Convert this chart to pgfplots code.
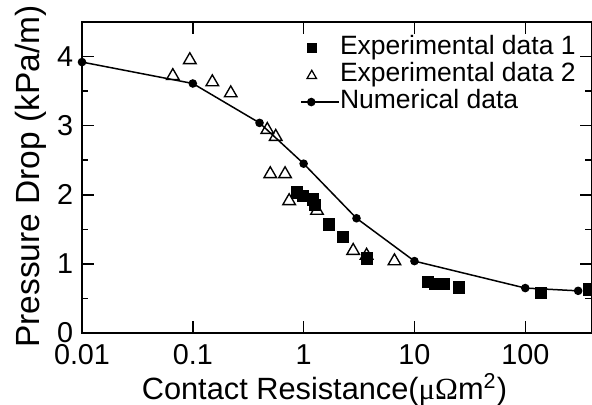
\documentclass[border=0pt]{standalone}
\usepackage{fontspec}
\setmainfont{Liberation Sans}
\newfontfamily\symfont{Liberation Serif}
\usepackage{pgfplots}
\pgfplotsset{compat=1.18}

% 1 px of the reference = 0.4pt
\begin{document}
\begin{tikzpicture}
\begin{axis}[
  scale only axis,
  width=204pt, height=124.4pt,
  xmode=log,
  xmin=0.01, xmax=400,
  ymin=0, ymax=4.5,
  xtick={0.01,0.1,1,10,100},
  xticklabels={0.01,0.1,1,10,100},
  xminorticks=false,
  ytick={0,1,2,3,4},
  minor y tick num=1,
  tick align=inside,
  major tick length=4.8pt,
  minor tick length=2.6pt,
  every tick/.style={black, line width=0.6pt},
  axis line style={line width=0.8pt},
  /pgf/number format/assume math mode=true,
  ticklabel style={font=\fontsize{11.5}{12}\selectfont},
  xticklabel style={yshift=-1pt},
  xlabel={Contact Resistance({\symfont μΩ}m\textsuperscript{2})},
  ylabel={Pressure Drop (kPa/m)},
  every axis x label/.style={at={([xshift=-5pt,yshift=-26.6pt]axis description cs:0.5,0)},
    anchor=base, font=\fontsize{12.3}{13}\selectfont},
  every axis y label/.style={at={([xshift=-16.8pt,yshift=0.4pt]axis description cs:0,0.5)},
    anchor=base, rotate=90, font=\fontsize{13.4}{14}\selectfont},
  legend style={at={(rel axis cs:0.4275,0.958)}, anchor=north west, draw=none, fill=none,
    inner sep=0pt, row sep=0.8pt,
    font=\fontsize{10.6}{11}\selectfont,
    nodes={inner sep=0pt, text height=0.75em, text depth=0.25em}},
  legend cell align=left,
]
\addplot[only marks, mark=square*, mark size=2.3pt, black,
  legend image code/.code={\path (0pt,0pt) (15.2pt,0pt); \fill[black] (2.3pt,-1.9pt) rectangle (6.1pt,1.9pt);}]
  coordinates {
  (0.87,2.03) (0.99,1.98) (1.22,1.93) (1.26,1.85) (1.69,1.57) (2.27,1.39)
  (3.73,1.08) (13.3,0.74) (15.3,0.71) (18.5,0.71) (25.3,0.66) (139,0.58) (377,0.63)
  };
\addlegendentry{Experimental data 1}
\addplot[only marks, mark=triangle, mark size=2.9pt, black, mark options={line width=0.55pt, fill=white},
  legend image code/.code={\path (0pt,0pt) (15.2pt,0pt); \draw[black, line width=0.5pt] (2.3pt,-1.4pt) -- (6.1pt,-1.4pt) -- (4.2pt,1.9pt) -- cycle;}]
  coordinates {
  (0.066,3.72) (0.094,3.95) (0.15,3.63) (0.22,3.47) (0.47,2.94) (0.56,2.84)
  (0.5,2.30) (0.68,2.30) (0.74,1.91) (1.32,1.77) (2.8,1.19) (3.7,1.12) (6.6,1.04)
  };
\addlegendentry{Experimental data 2}
\addplot[black, line width=0.6pt, mark=*, mark size=1.4pt,
  legend image code/.code={\draw[black, line width=0.6pt] (0pt,0pt) -- (15.2pt,0pt); \fill[black] (4pt,0pt) circle (1.4pt);}]
  coordinates {
  (0.01,3.92) (0.1,3.61) (0.4,3.04) (1,2.45) (3,1.66) (10,1.04) (100,0.65) (300,0.61)
  };
\addlegendentry{Numerical data}
\end{axis}
\pgfresetboundingbox
\path (-32.8pt,-28.8pt) rectangle (204pt,133.2pt);
\end{tikzpicture}
\end{document}
